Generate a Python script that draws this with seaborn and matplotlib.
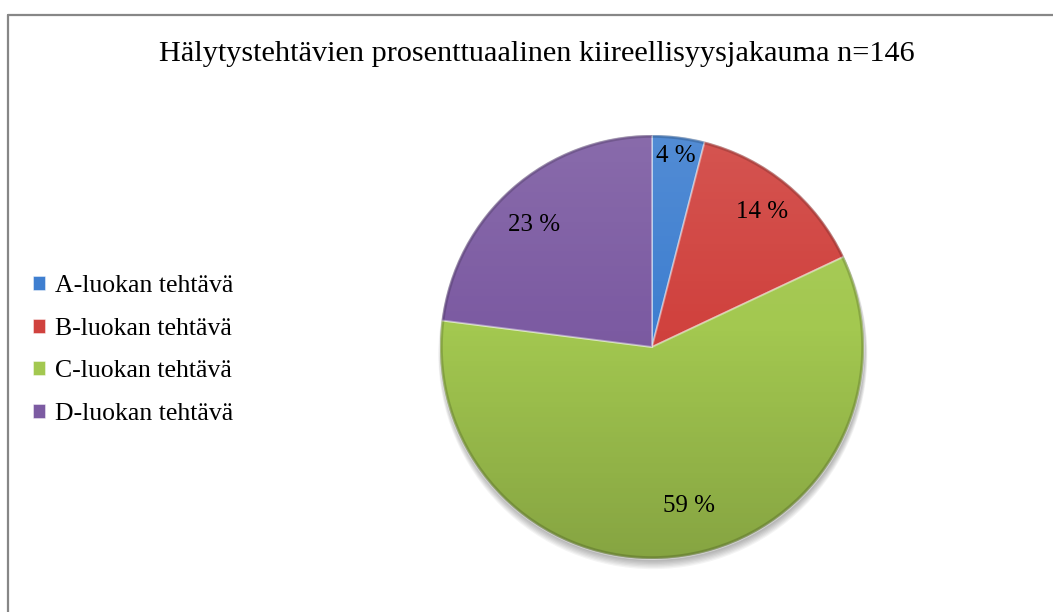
import numpy as np
import matplotlib
matplotlib.use("Agg")
import matplotlib.pyplot as plt
from matplotlib.patches import Patch, Circle
import seaborn as sns

# Data
categories = ["A-luokan tehtävä", "B-luokan tehtävä", "C-luokan tehtävä", "D-luokan tehtävä"]
percentages = [4, 14, 59, 23]
title = "Hälytystehtävien prosenttuaalinen kiireellisyysjakauma n=146"

colors = ["#3f7fd0", "#d0423e", "#a3c850", "#7c5ba2"]
# label placement: fraction of radius and small angular nudge (degrees)
label_radius = [0.91, 0.82, 0.77, 0.80]
label_nudge = [0.0, 0.5, 4.0, 2.5]

sns.set_theme(style="white")
plt.rcParams["font.family"] = ["Liberation Serif", "DejaVu Serif"]

W, H = 1053, 612
fig = plt.figure(figsize=(W / 100, H / 100), dpi=100)
fig.patch.set_facecolor("white")

# outer frame (open to the right and bottom)
fig.add_artist(plt.Line2D([8 / W, 8 / W], [0, 1 - 15 / H], color="#878787", lw=1.6,
                          transform=fig.transFigure))
fig.add_artist(plt.Line2D([8 / W, 1], [1 - 15 / H, 1 - 15 / H], color="#878787", lw=1.6,
                          transform=fig.transFigure))

fig.text(537 / W, 1 - 54 / H, title, ha="center", va="center", fontsize=21.8, color="black")

# pie axes: centre (652, 347), radius 212 px
cx, cy, r = 652, 347, 212
ax = fig.add_axes([(cx - r) / W, 1 - (cy + r) / H, 2 * r / W, 2 * r / H])
ax.set_xlim(-1, 1)
ax.set_ylim(-1, 1)
ax.set_aspect("equal")
ax.axis("off")

# soft drop shadow under the pie
for k in range(7):
    ax.add_patch(Circle((0.004, -0.012 - k * 0.004), 1.0 + k * 0.002, color="black",
                        alpha=0.045, lw=0, zorder=0, clip_on=False))

wedges, _ = ax.pie(percentages, colors=colors, startangle=90, counterclock=False,
                   radius=1.0, wedgeprops=dict(edgecolor=(1, 1, 1, 0.4), linewidth=1.4))
for w in wedges:
    w.set_zorder(2)

# vertical light-to-dark shading over the whole disc
grad = np.zeros((256, 1, 4))
t = np.linspace(0, 1, 256)
grad[:, 0, :3] = np.where(t[:, None] < 0.45, 1.0, 0.0)
grad[:, 0, 3] = np.where(t < 0.45, 0.10 * (1 - t / 0.45), 0.18 * (t - 0.45) / 0.55)
im = ax.imshow(grad, extent=(-1, 1, -1, 1), origin="upper", aspect="auto", zorder=3,
               interpolation="bilinear")
im.set_clip_path(Circle((0, 0), 1.0, transform=ax.transData))
ax.set_xlim(-1, 1)
ax.set_ylim(-1, 1)

# rim darkening
ax.add_patch(Circle((0, 0), 0.994, fill=False, ec=(0, 0, 0, 0.16), lw=2.2, zorder=4))

# value labels placed along each slice's mid angle
total = sum(percentages)
start = 90.0
for p, rr, nd in zip(percentages, label_radius, label_nudge):
    span = 360.0 * p / total
    mid = np.deg2rad(start - span / 2 + nd)
    ax.text(rr * np.cos(mid), rr * np.sin(mid), f"{p} %", ha="center", va="center",
            fontsize=18, color="black", zorder=5)
    start -= span

handles = [Patch(facecolor=c, edgecolor=(1, 1, 1, 0.5), lw=0.6) for c in colors]
fig.legend(handles, categories, loc="upper left", bbox_to_anchor=(23 / W, 1 - 265 / H),
           frameon=False, fontsize=18.5, labelcolor="black", handlelength=0.45,
           handleheight=0.45, handletextpad=0.4, labelspacing=0.8, borderaxespad=0)

fig.savefig("out.png", dpi=100, facecolor="white")
